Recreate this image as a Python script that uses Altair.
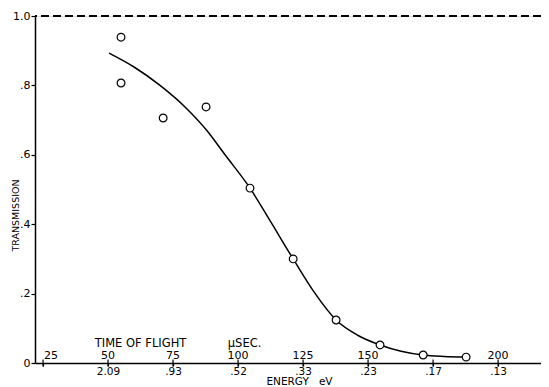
import json
import altair as alt
import pandas as pd

# measured transmission points (time of flight in microseconds)
tof_points = [55.0, 55.0, 71.2, 87.7, 104.6, 121.2, 137.7, 154.6, 171.2, 187.7]
trans_points = [0.939, 0.807, 0.706, 0.738, 0.504, 0.30, 0.124, 0.052, 0.023, 0.017]

# smooth fitted curve
curve_tof = [50.4, 60, 70, 80, 88, 95, 104.6, 112.3, 121.2, 129.2, 137.7, 146, 154.6, 162.7, 171.2, 179.2, 187.7]
curve_trans = [0.893, 0.853, 0.80, 0.735, 0.67, 0.60, 0.504, 0.41, 0.30, 0.205, 0.124, 0.08, 0.052, 0.034, 0.023, 0.019, 0.017]

# axis ticks / labels
tof_ticks = [25, 50, 75, 100, 125, 150, 175, 200]
energy_labels = ["", "2.09", ".93", ".52", ".33", ".23", ".17", ".13"]
tof_label_values = [50, 75, 100, 125, 150, 200]
tof_label_text = ["50", "75", "100", "125", "150", "200"]
first_tof_value = [25]
first_tof_text = ["25"]
y_ticks = [0, 0.2, 0.4, 0.6, 0.8, 1.0]
y_labels = ["0", ".2", ".4", ".6", ".8", "1.0"]
annot_tof = [62.5, 102.5]
annot_text = ["TIME OF FLIGHT", "\u03bcSEC."]
ref_level = [1.0]

FONT = "DejaVu Sans"

x_scale = alt.Scale(domain=[21.92, 216.5], nice=False, zero=False)
y_scale = alt.Scale(domain=[0, 1.0], nice=False)

energy_expr = "{}[indexof({}, datum.value)]".format(json.dumps(energy_labels), json.dumps(tof_ticks))
ylab_expr = "{}[indexof({}, round(datum.value*10)/10)]".format(json.dumps(y_labels), json.dumps(y_ticks))

pts_df = pd.DataFrame({"tof": tof_points, "trans": trans_points})
curve_df = pd.DataFrame({"tof": curve_tof, "trans": curve_trans})
lab_df = pd.DataFrame({"tof": tof_label_values, "label": tof_label_text})
lab0_df = pd.DataFrame({"tof": first_tof_value, "label": first_tof_text})
annot_df = pd.DataFrame({"tof": annot_tof, "label": annot_text})
ref_df = pd.DataFrame({"level": ref_level})
tick_df = pd.DataFrame({"tof": tof_ticks})

x_axis = alt.Axis(
    values=tof_ticks, labelExpr=energy_expr, title="ENERGY\u00a0\u00a0\u00a0eV",
    titleX=264, titleY=21, titleAlign="center", titleBaseline="alphabetic",
    titleFont=FONT, titleFontSize=10.5, titleFontWeight="normal", titleColor="black",
    labelFont=FONT, labelFontSize=10.5, labelPadding=0, labelColor="black",
    tickSize=3, tickColor="black", tickWidth=1.2,
    domainColor="black", domainWidth=1.5, grid=False, labelFlush=False,
)
y_axis = alt.Axis(
    values=y_ticks, labelExpr=ylab_expr, title="TRANSMISSION",
    titleX=-20, titleY=199, titleAlign="center", titleBaseline="middle",
    titleFont=FONT, titleFontSize=9.5, titleFontWeight="normal", titleColor="black",
    labelFont=FONT, labelFontSize=11, labelPadding=1, labelColor="black",
    tickSize=4, tickColor="black", tickWidth=1.2,
    domainColor="black", domainWidth=1.5, grid=False,
)

curve = alt.Chart(curve_df).mark_line(color="black", strokeWidth=1.5, interpolate="monotone").encode(
    x=alt.X("tof:Q", scale=x_scale, axis=x_axis),
    y=alt.Y("trans:Q", scale=y_scale, axis=y_axis),
)

points = alt.Chart(pts_df).mark_point(
    shape="circle", size=60, filled=True, fill="white", stroke="black", strokeWidth=1.2, opacity=1
).encode(x=alt.X("tof:Q", scale=x_scale), y=alt.Y("trans:Q", scale=y_scale))

dashed = alt.Chart(ref_df).mark_rule(color="black", strokeWidth=1.8, strokeDash=[8, 4]).encode(
    y=alt.Y("level:Q", scale=y_scale)
)

cross_ticks = alt.Chart(tick_df).mark_tick(
    orient="vertical", size=7, thickness=1.2, color="black", opacity=1
).encode(x=alt.X("tof:Q", scale=x_scale), y=alt.datum(0, scale=y_scale))

top_labels = alt.Chart(lab_df).mark_text(
    font=FONT, fontSize=11, baseline="alphabetic", align="center", dy=-4, color="black"
).encode(x=alt.X("tof:Q", scale=x_scale), y=alt.datum(0, scale=y_scale), text="label:N")

first_label = alt.Chart(lab0_df).mark_text(
    font=FONT, fontSize=11, baseline="alphabetic", align="left", dx=1, dy=-4, color="black"
).encode(x=alt.X("tof:Q", scale=x_scale), y=alt.datum(0, scale=y_scale), text="label:N")

annots = alt.Chart(annot_df).mark_text(
    font=FONT, fontSize=11.5, baseline="alphabetic", align="center", dy=-16, color="black"
).encode(x=alt.X("tof:Q", scale=x_scale), y=alt.datum(0, scale=y_scale), text="label:N")

chart = alt.layer(dashed, curve, cross_ticks, points, top_labels, first_label, annots).properties(
    width=506, height=347,
    autosize=alt.AutoSizeParams(type="none"),
    padding={"left": 27, "top": 8, "right": 0, "bottom": 24},
).configure_view(stroke=None).configure(background="white")

chart.save("out.html", embed_options={"renderer": "svg", "actions": False})
